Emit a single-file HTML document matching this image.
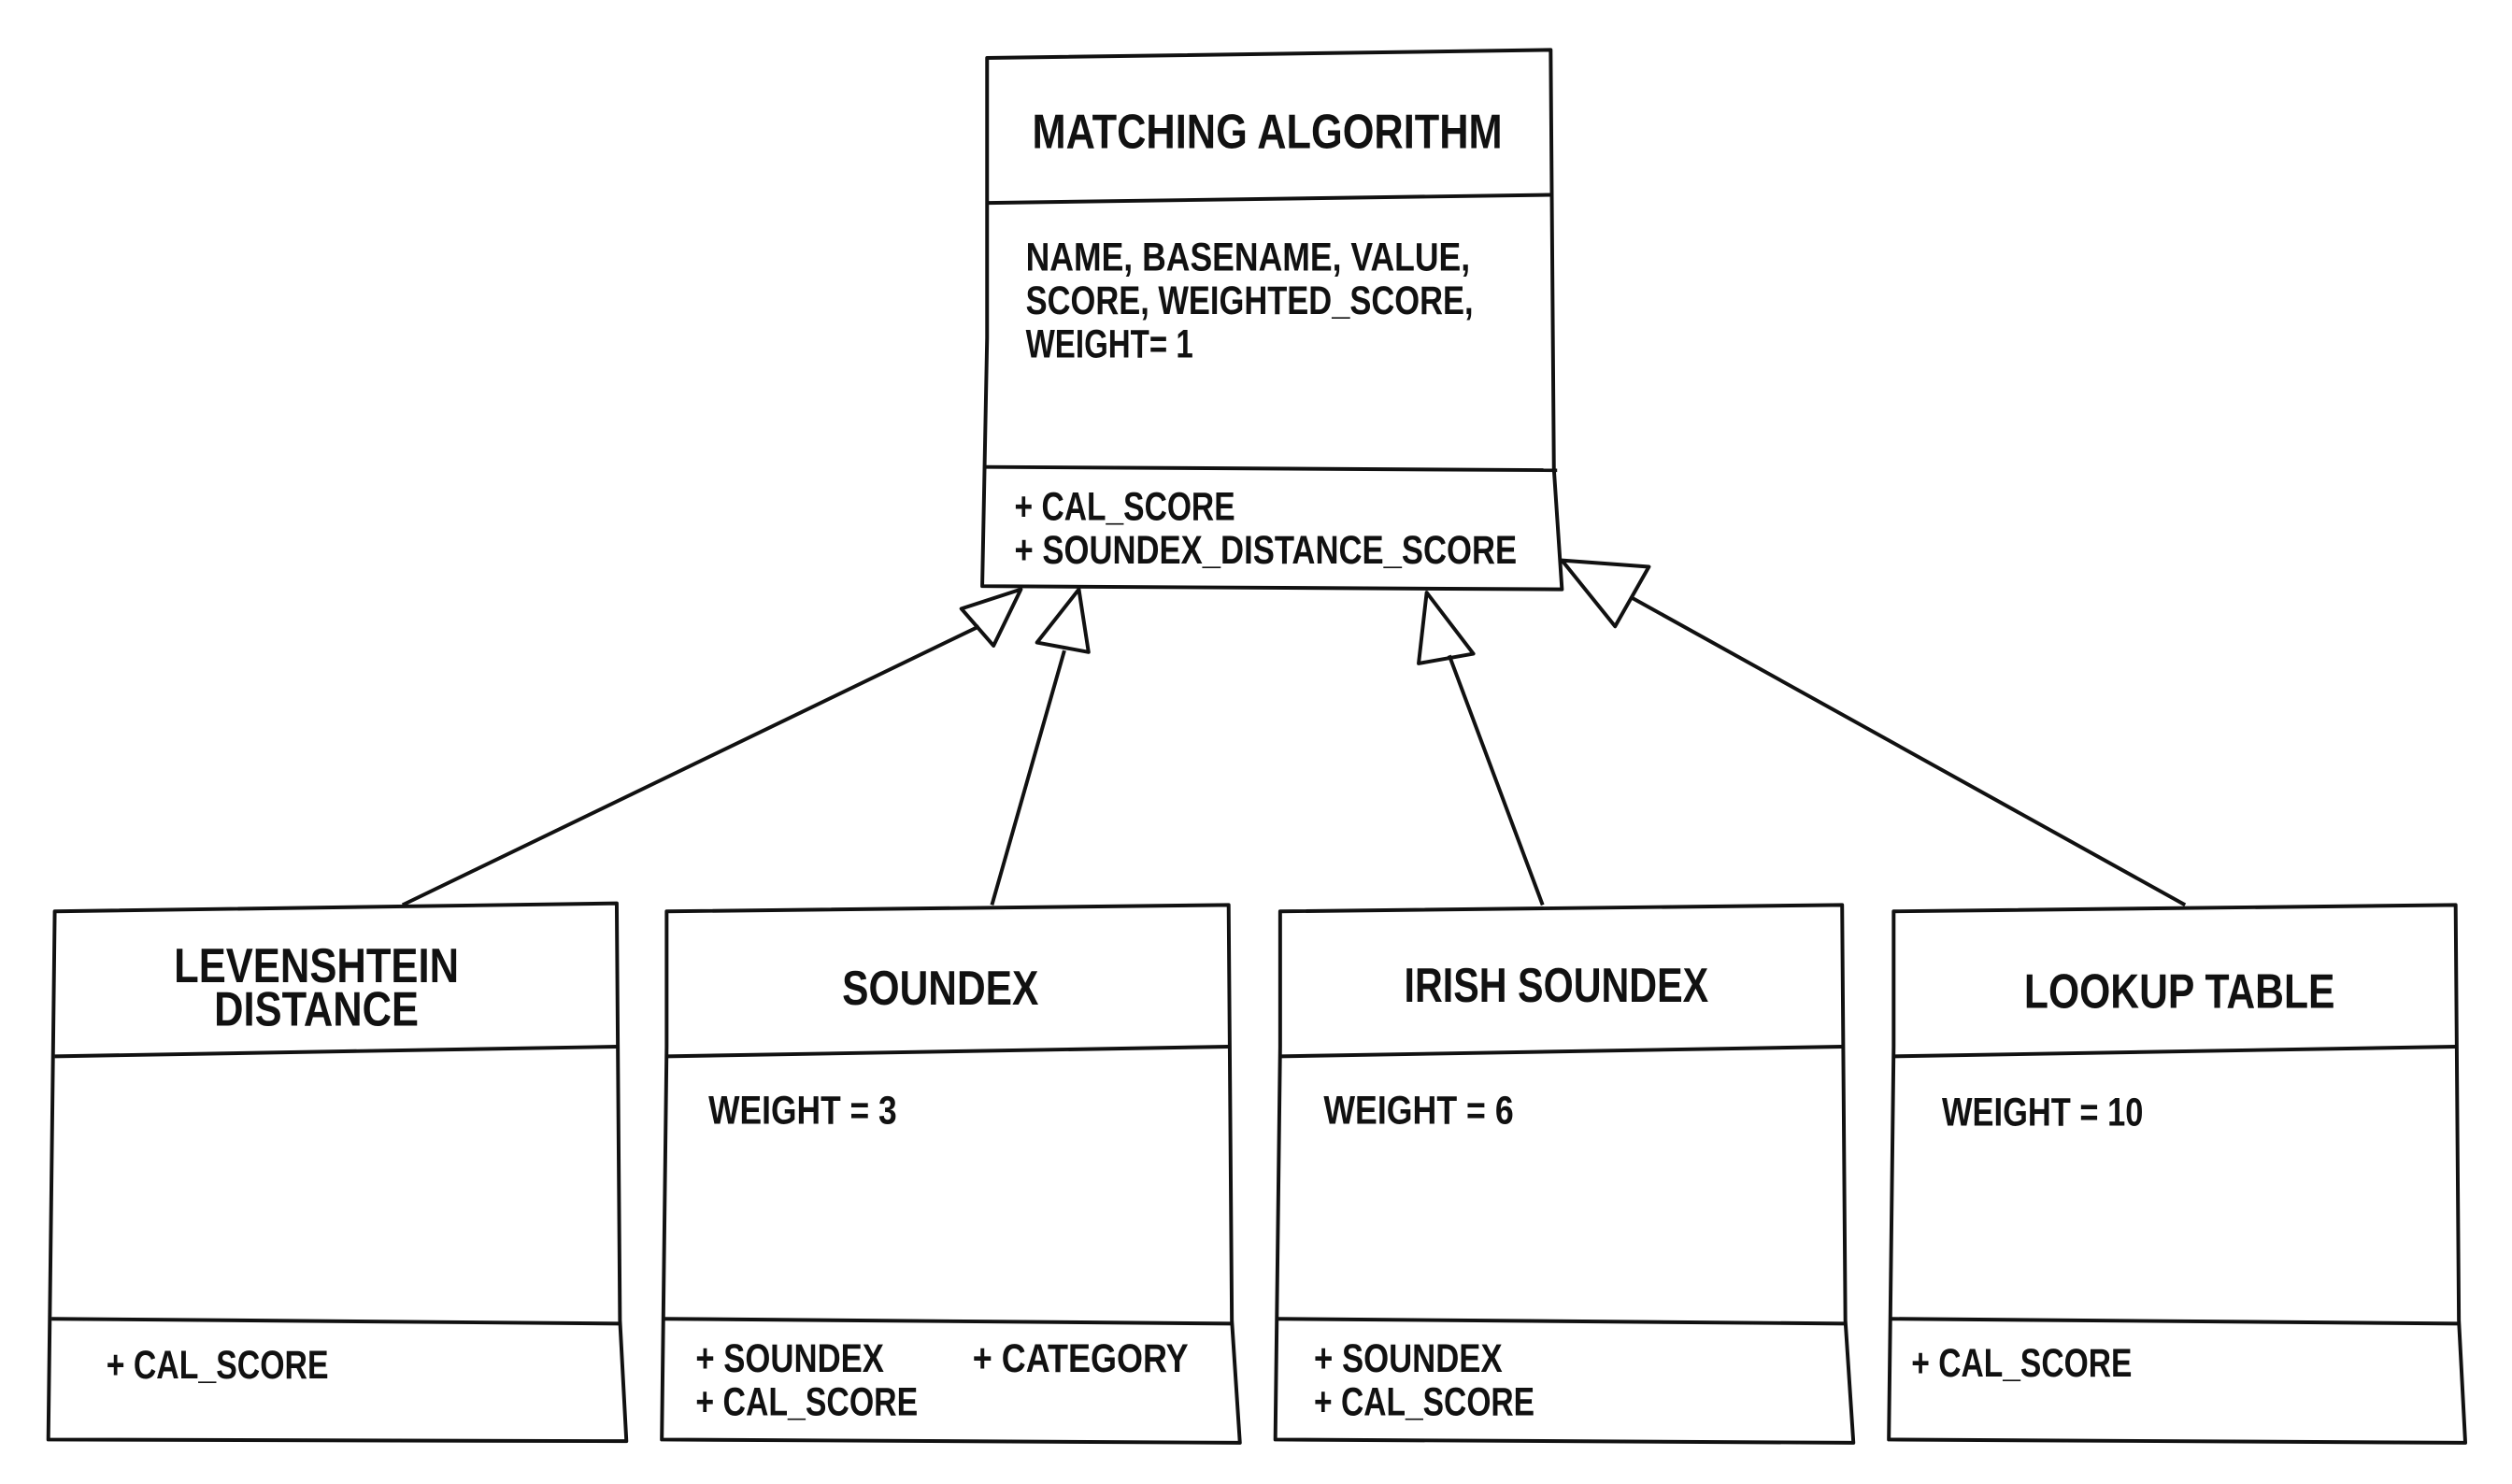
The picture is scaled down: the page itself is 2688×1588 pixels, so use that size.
<!DOCTYPE html>
<html><head><meta charset="utf-8"><style>
html,body{margin:0;padding:0;background:#fff;width:2688px;height:1588px;overflow:hidden}
svg{display:block}
text{font-family:"Liberation Sans Narrow","Liberation Sans",sans-serif;fill:#111;font-weight:bold}
</style></head><body>
<svg width="2688" height="1588" viewBox="0 0 1560 921.6" preserveAspectRatio="none" xmlns="http://www.w3.org/2000/svg">
<g fill="none" stroke="#111" stroke-width="2.3" stroke-linejoin="round">
<path d="M613 36 L963 31 L965 291 L970 366 L610 364 L613 210 Z"/>
<path d="M614 126 L963 121"/>
<path d="M612 290 L967 292"/>
<path d="M34 566 L383 561 L385 820 L389 895 L30 894 L33 650 Z"/>
<path d="M34 656 L383 650"/>
<path d="M32 819 L385 822"/>
<path d="M414 566 L763 562 L765 820 L770 896 L411 894 L414 650 Z"/>
<path d="M414 656 L763 650"/>
<path d="M412 819 L765 822"/>
<path d="M795 566 L1144 562 L1146 820 L1151 896 L792 894 L795 650 Z"/>
<path d="M795 656 L1144 650"/>
<path d="M793 819 L1146 822"/>
<path d="M1176 566 L1525 562 L1527 820 L1531 896 L1173 894 L1176 650 Z"/>
<path d="M1176 656 L1525 650"/>
<path d="M1174 819 L1527 822"/>
<path d="M250 562 L608 389"/>
<path d="M597 378 L634 366 L617 401 Z"/>
<path d="M616 562 L661 404"/>
<path d="M644 399 L670 366 L676 405 Z"/>
<path d="M958 562 L900 407"/>
<path d="M881 412 L886 368 L915 406 Z"/>
<path d="M1357 562 L1013 371"/>
<path d="M1024 352 L970 348 L1003 389 Z"/>
</g>
<g font-size="30">
<text x="641" y="92" textLength="292" lengthAdjust="spacingAndGlyphs">MATCHING ALGORITHM</text>
<text x="108" y="610" textLength="177" lengthAdjust="spacingAndGlyphs">LEVENSHTEIN</text>
<text x="133" y="637" textLength="127" lengthAdjust="spacingAndGlyphs">DISTANCE</text>
<text x="523" y="624" textLength="122" lengthAdjust="spacingAndGlyphs">SOUNDEX</text>
<text x="872" y="622" textLength="189" lengthAdjust="spacingAndGlyphs">IRISH SOUNDEX</text>
<text x="1257" y="626" textLength="193" lengthAdjust="spacingAndGlyphs">LOOKUP TABLE</text>
</g>
<g font-size="25">
<text x="637" y="168" textLength="276" lengthAdjust="spacingAndGlyphs">NAME, BASENAME, VALUE,</text>
<text x="637" y="195" textLength="278" lengthAdjust="spacingAndGlyphs">SCORE, WEIGHTED_SCORE,</text>
<text x="637" y="222" textLength="104" lengthAdjust="spacingAndGlyphs">WEIGHT= 1</text>
<text x="630" y="323" textLength="137" lengthAdjust="spacingAndGlyphs">+ CAL_SCORE</text>
<text x="630" y="350" textLength="312" lengthAdjust="spacingAndGlyphs">+ SOUNDEX_DISTANCE_SCORE</text>
<text x="66" y="856" textLength="138" lengthAdjust="spacingAndGlyphs">+ CAL_SCORE</text>
<text x="440" y="698" textLength="117" lengthAdjust="spacingAndGlyphs">WEIGHT = 3</text>
<text x="432" y="852" textLength="117" lengthAdjust="spacingAndGlyphs">+ SOUNDEX</text>
<text x="432" y="879" textLength="138" lengthAdjust="spacingAndGlyphs">+ CAL_SCORE</text>
<text x="604" y="852" textLength="134" lengthAdjust="spacingAndGlyphs">+ CATEGORY</text>
<text x="822" y="698" textLength="118" lengthAdjust="spacingAndGlyphs">WEIGHT = 6</text>
<text x="816" y="852" textLength="117" lengthAdjust="spacingAndGlyphs">+ SOUNDEX</text>
<text x="816" y="879" textLength="137" lengthAdjust="spacingAndGlyphs">+ CAL_SCORE</text>
<text x="1206" y="699" textLength="125" lengthAdjust="spacingAndGlyphs">WEIGHT = 10</text>
<text x="1187" y="855" textLength="137" lengthAdjust="spacingAndGlyphs">+ CAL_SCORE</text>
</g>
</svg>
</body></html>
